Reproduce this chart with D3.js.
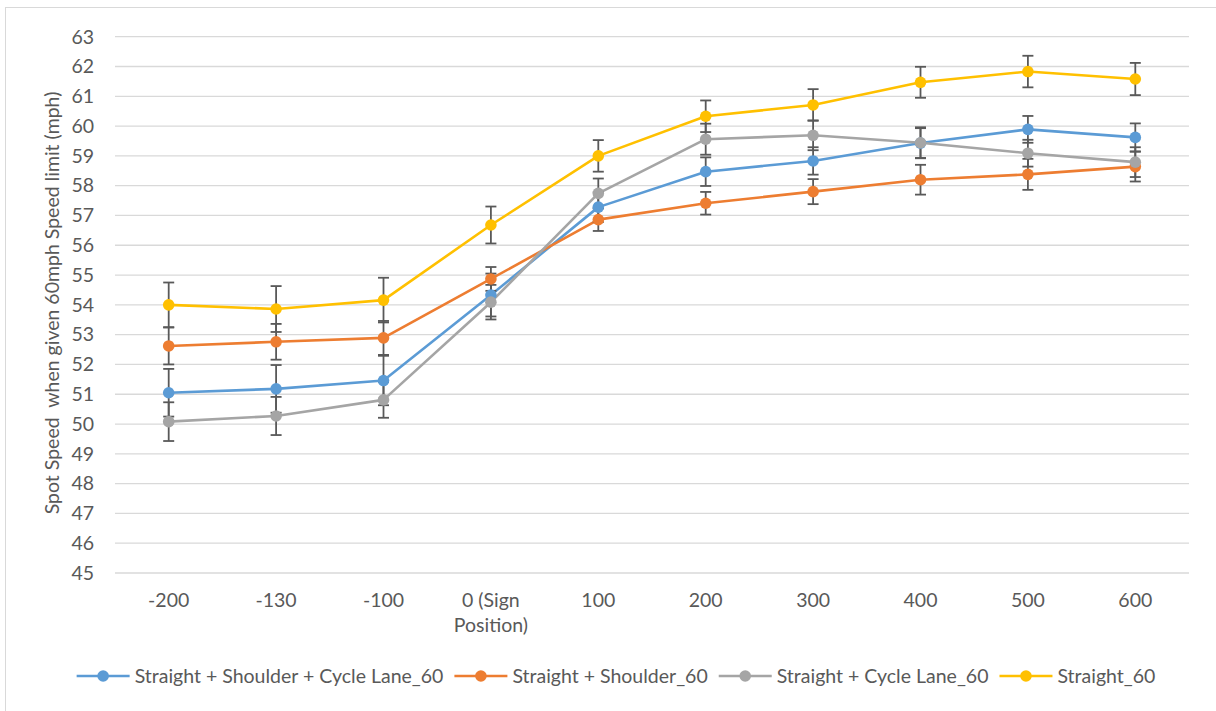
<!DOCTYPE html>
<html><head><meta charset="utf-8">
<script src="https://cdn.jsdelivr.net/npm/d3@7"></script>
<style>
html,body{margin:0;padding:0;background:#fff;}
svg{display:block;}
text{font-family:Lato,"Open Sans",sans-serif;fill:#595959;}
</style></head>
<body>
<svg id="chart" width="1216" height="711"></svg>
<script>
const categories = ["-200","-130","-100","0 (Sign Position)","100","200","300","400","500","600"];
const yTicks = [45,46,47,48,49,50,51,52,53,54,55,56,57,58,59,60,61,62,63];
const seriesNames = ["Straight + Shoulder + Cycle Lane_60","Straight + Shoulder_60","Straight + Cycle Lane_60","Straight_60"];
const seriesColors = ["#5B9BD5","#ED7D31","#A5A5A5","#FFC000"];
const shoulderCycle = [51.05,51.18,51.46,54.33,57.28,58.47,58.83,59.43,59.89,59.62];
const shoulderCycleErr = [0.80,0.80,0.83,0.72,0.50,0.48,0.46,0.50,0.45,0.47];
const shoulder = [52.62,52.76,52.89,54.87,56.86,57.41,57.80,58.20,58.38,58.64];
const shoulderErr = [0.62,0.60,0.57,0.40,0.38,0.38,0.42,0.50,0.52,0.50];
const cycleLane = [50.08,50.27,50.81,54.09,57.74,59.56,59.69,59.44,59.09,58.79];
const cycleLaneErr = [0.65,0.64,0.60,0.58,0.50,0.52,0.50,0.52,0.45,0.50];
const straight = [54.00,53.86,54.16,56.68,59.00,60.33,60.71,61.47,61.83,61.58];
const straightErr = [0.75,0.77,0.75,0.62,0.53,0.53,0.53,0.52,0.53,0.54];
const yTitle = "Spot Speed  when given 60mph Speed limit (mph)";

const seriesValues = [shoulderCycle, shoulder, cycleLane, straight];
const seriesErrors = [shoulderCycleErr, shoulderErr, cycleLaneErr, straightErr];

const FS = 19.5;
const svg = d3.select("#chart");

// outer border
svg.append("rect").attr("x",5.5).attr("y",7.5).attr("width",1230).attr("height",720)
  .attr("fill","none").attr("stroke","#d9d9d9").attr("stroke-width",1);

const x = d3.scaleBand().domain(categories).range([115,1189]).paddingInner(0).paddingOuter(0);
const cx = c => x(c) + x.bandwidth()/2;
const y = d3.scaleLinear().domain([45,63]).range([573,36.7]);

// gridlines
svg.append("g").selectAll("line").data(yTicks).join("line")
  .attr("x1",115).attr("x2",1189)
  .attr("y1",d=>y(d)).attr("y2",d=>y(d))
  .attr("stroke","#d9d9d9").attr("stroke-width",1.3);

// y tick labels
svg.append("g").selectAll("text").data(yTicks).join("text")
  .attr("x",94).attr("y",d=>y(d)).attr("dy","0.35em")
  .attr("text-anchor","end").style("font-size",FS+"px").text(d=>d);

// x labels with wrapping
const xl = svg.append("g");
categories.forEach(c=>{
  const t = xl.append("text").attr("text-anchor","middle").style("font-size",FS+"px")
    .attr("x",cx(c)).attr("y",607);
  const words = c.split(" ");
  let line = [], lineNo = 0;
  let tspan = t.append("tspan").attr("x",cx(c)).attr("y",607);
  words.forEach(w=>{
    line.push(w);
    tspan.text(line.join(" "));
    if (tspan.node().getComputedTextLength() > 95 && line.length>1){
      line.pop(); tspan.text(line.join(" "));
      line=[w]; lineNo++;
      tspan = t.append("tspan").attr("x",cx(c)).attr("y",607+lineNo*25).text(w);
    }
  });
});

// y axis title
svg.append("text").attr("transform","translate(59,303) rotate(-90)")
  .attr("text-anchor","middle").style("font-size",FS+"px").style("white-space","pre")
  .attr("xml:space","preserve").text(yTitle);

// lines
const lineGen = d3.line().x((d,i)=>cx(categories[i])).y(d=>y(d));
seriesValues.forEach((vals,s)=>{
  svg.append("path").datum(vals).attr("d",lineGen)
    .attr("fill","none").attr("stroke",seriesColors[s]).attr("stroke-width",2.6)
    .attr("stroke-linejoin","round");
});

// error bars
const eg = svg.append("g").attr("stroke","#595959").attr("stroke-width",1.8);
seriesValues.forEach((vals,s)=>{
  vals.forEach((v,i)=>{
    const px = cx(categories[i]);
    const e = seriesErrors[s][i];
    eg.append("line").attr("x1",px).attr("x2",px).attr("y1",y(v+e)).attr("y2",y(v-e));
    eg.append("line").attr("x1",px-5.5).attr("x2",px+5.5).attr("y1",y(v+e)).attr("y2",y(v+e));
    eg.append("line").attr("x1",px-5.5).attr("x2",px+5.5).attr("y1",y(v-e)).attr("y2",y(v-e));
  });
});

// markers
seriesValues.forEach((vals,s)=>{
  svg.append("g").selectAll("circle").data(vals).join("circle")
    .attr("cx",(d,i)=>cx(categories[i])).attr("cy",d=>y(d)).attr("r",5.8)
    .attr("fill",seriesColors[s]);
});

// legend
const lg = svg.append("g");
const items = seriesNames.map((n,s)=>{
  const g = lg.append("g");
  g.append("line").attr("x1",0).attr("x2",53).attr("y1",0).attr("y2",0)
    .attr("stroke",seriesColors[s]).attr("stroke-width",2.6);
  g.append("circle").attr("cx",26.5).attr("cy",0).attr("r",5.8).attr("fill",seriesColors[s]);
  const t = g.append("text").attr("x",58).attr("y",0).attr("dy","0.35em").style("font-size",FS+"px").text(n);
  return {g, w: 58 + t.node().getComputedTextLength()};
});
const gap = 11;
const total = d3.sum(items,d=>d.w) + gap*(items.length-1);
let lx = 616 - total/2;
items.forEach(it=>{ it.g.attr("transform",`translate(${lx},676)`); lx += it.w + gap; });
</script>
</body></html>
